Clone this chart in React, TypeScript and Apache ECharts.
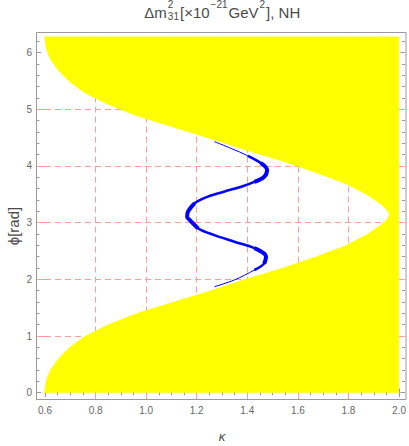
import React, { useEffect, useRef } from 'react';
import * as echarts from 'echarts';

const TWO_PI = 2 * Math.PI;

// axis ticks
const yTickValues = [0, 1, 2, 3, 4, 5, 6];
const gridXValues = [0.8, 1.0, 1.2, 1.4, 1.6, 1.8];
const gridYValues = [1, 2, 3, 4, 5];

// yellow region: left boundary kappa(phi); region extends right to kappa = 2.0
const yellowPhi = [
  0, 0.2, 0.4, 0.6, 0.8, 1.0, 1.2, 1.4, 1.6, 1.8, 2.0, 2.2, 2.4, 2.6, 2.8, 2.9, 2.95, 3.0, 3.05, 3.1, 3.1416,
  3.183, 3.233, 3.283, 3.333, 3.383, 3.483, 3.683, 3.883, 4.083, 4.283, 4.483, 4.683, 4.883, 5.083, 5.283, 5.483, 5.683,
  5.883, 6.083, 6.2832,
];
const yellowKappa = [
  0.597, 0.603, 0.62, 0.652, 0.697, 0.758, 0.848, 0.962, 1.106, 1.252, 1.39, 1.538, 1.67, 1.79, 1.875, 1.908, 1.924,
  1.938, 1.949, 1.957, 1.961, 1.957, 1.949, 1.938, 1.924, 1.908, 1.875, 1.79, 1.67, 1.538, 1.39, 1.252, 1.106, 0.962,
  0.848, 0.758, 0.697, 0.652, 0.62, 0.603, 0.597,
];
const yellowRightEdge = 2.0;

// blue curve
const bluePhi = [
  4.43, 4.31, 4.18, 4.05, 3.93, 3.81, 3.72, 3.635, 3.55, 3.46, 3.34, 3.19, 3.1, 3.05, 2.9, 2.78, 2.665, 2.55, 2.4, 2.28, 2.165,
  1.99, 1.87,
];
const blueKappa = [
  1.27, 1.336, 1.402, 1.454, 1.478, 1.467, 1.428, 1.376, 1.31, 1.244, 1.191, 1.165, 1.162, 1.172, 1.205, 1.27, 1.349, 1.428,
  1.474, 1.467, 1.428, 1.349, 1.27,
];

const FONT = '"Liberation Sans", Arial, sans-serif';
const TICK_GRAY = '#9a9a9a';
const LABEL_GRAY = '#666666';
const TEXT_GRAY = '#4a4a4a';
const GRID_PINK = '#ff9c9c';
const BLUE = '#0000ff';
const YELLOW = '#ffff00';

function measure(text: string, size: number): number {
  const c = document.createElement('canvas');
  const ctx = c.getContext('2d');
  if (!ctx) return text.length * size * 0.55;
  ctx.font = `${size}px ${FONT}`;
  return ctx.measureText(text).width;
}

export default function App() {
  const ref = useRef<HTMLDivElement>(null);

  useEffect(() => {
    if (!ref.current) return;
    const chart = echarts.init(ref.current, undefined, { renderer: 'svg' });

    const yellowData = yellowPhi.map((p, i) => [yellowKappa[i], p]);
    const blueData = bluePhi.map((p, i) => [blueKappa[i], p]);
    const blueMid = blueData.slice(2, 21);
    const blueThick1 = blueData.slice(3, 7);
    const blueThick2 = blueData.slice(10, 15);
    const blueThick3 = blueData.slice(17, 20);

    const baseX = { type: 'value', min: 0.6, max: 2.0, interval: 0.2, gridIndex: 0 };
    const baseY = { type: 'value', min: 0, max: TWO_PI, interval: 1, gridIndex: 0 };
    const frameTick = (len: number) => ({
      show: true,
      inside: true,
      length: len,
      lineStyle: { color: TICK_GRAY, width: 1 },
    });
    const minor = (n: number, len: number) => ({
      show: true,
      splitNumber: n,
      length: len,
      lineStyle: { color: TICK_GRAY, width: 1 },
    });
    const ext = (len: number, vals: number[]) => ({
      show: true,
      inside: false,
      length: len,
      customValues: vals,
      lineStyle: { color: GRID_PINK, width: 1 },
    });
    const pinkSplit = {
      show: true,
      showMinLine: false,
      showMaxLine: false,
      lineStyle: { color: GRID_PINK, width: 1, type: [6, 4] },
    };

    // title layout: main text, superscripts, stacked sup/sub
    const MAIN = 15;
    const SCRIPT = 10;
    const GAP = 1;
    const yMain = 12;
    const ySup = 4.8;
    const ySub = 16.2;
    type Piece = { kind: 'main' | 'sup' | 'stack'; t: string; t2?: string };
    const pieces: Piece[] = [
      { kind: 'main', t: 'Δm' },
      { kind: 'stack', t: '2', t2: '31' },
      { kind: 'main', t: '[×10' },
      { kind: 'sup', t: '−21' },
      { kind: 'main', t: 'GeV' },
      { kind: 'sup', t: '2' },
      { kind: 'main', t: '], NH' },
    ];
    const widths = pieces.map((p) =>
      p.kind === 'main'
        ? measure(p.t, MAIN)
        : p.kind === 'sup'
        ? measure(p.t, SCRIPT)
        : Math.max(measure(p.t, SCRIPT), measure(p.t2 || '', SCRIPT))
    );
    const total = widths.reduce((a, b) => a + b, 0) + GAP * (pieces.length - 1);
    let cx = 222.3 - total / 2;
    const titleEls: any[] = [];
    pieces.forEach((p, i) => {
      const mk = (t: string, x: number, y: number, s: number) => ({
        type: 'text',
        x,
        y,
        silent: true,
        style: { text: t, fontSize: s, fontFamily: FONT, fill: TEXT_GRAY, align: 'left', verticalAlign: 'middle' },
      });
      if (p.kind === 'main') titleEls.push(mk(p.t, cx, yMain, MAIN));
      else if (p.kind === 'sup') titleEls.push(mk(p.t, cx, ySup, SCRIPT));
      else {
        titleEls.push(mk(p.t, cx, ySup, SCRIPT));
        titleEls.push(mk(p.t2 || '', cx, ySub, SCRIPT));
      }
      cx += widths[i] + GAP;
    });

    chart.setOption({
      animation: false,
      grid: { left: 45, right: 9, top: 36.6, bottom: 53.3, containLabel: false },
      xAxis: [
        {
          ...baseX,
          position: 'bottom',
          offset: 6.8,
          axisLine: { show: false },
          axisTick: frameTick(4.3),
          minorTick: minor(4, 2.7),
          axisLabel: {
            show: true,
            color: LABEL_GRAY,
            fontSize: 10,
            fontFamily: FONT,
            margin: 6,
            formatter: (v: number) => v.toFixed(1),
          },
          splitLine: pinkSplit,
        },
        {
          ...baseX,
          position: 'top',
          offset: 4.1,
          axisLine: { show: false },
          axisTick: frameTick(4.3),
          minorTick: minor(4, 2.7),
          axisLabel: { show: false },
          splitLine: { show: false },
        },
        {
          ...baseX,
          position: 'bottom',
          offset: 0,
          axisLine: { show: false },
          axisTick: ext(6.8, gridXValues),
          axisLabel: { show: false },
          splitLine: { show: false },
        },
        {
          ...baseX,
          position: 'top',
          offset: 0,
          axisLine: { show: false },
          axisTick: ext(4.1, gridXValues),
          axisLabel: { show: false },
          splitLine: { show: false },
        },
      ],
      yAxis: [
        {
          ...baseY,
          position: 'left',
          offset: 8.5,
          axisLine: { show: false },
          axisTick: { ...frameTick(4.7), customValues: yTickValues },
          minorTick: minor(5, 3),
          axisLabel: {
            show: true,
            color: LABEL_GRAY,
            fontSize: 10,
            fontFamily: FONT,
            margin: 4.5,
            customValues: yTickValues,
            formatter: (v: number) => (Math.abs(v - Math.round(v)) < 1e-6 ? String(Math.round(v)) : ''),
          },
          splitLine: pinkSplit,
        },
        {
          ...baseY,
          position: 'right',
          offset: 6,
          axisLine: { show: false },
          axisTick: { ...frameTick(4.7), customValues: yTickValues },
          minorTick: minor(5, 3),
          axisLabel: { show: false },
          splitLine: { show: false },
        },
        {
          ...baseY,
          position: 'left',
          offset: 0,
          axisLine: { show: false },
          axisTick: ext(8.5, gridYValues),
          axisLabel: { show: false },
          splitLine: { show: false },
        },
        {
          ...baseY,
          position: 'right',
          offset: 0,
          axisLine: { show: false },
          axisTick: ext(6, gridYValues),
          axisLabel: { show: false },
          splitLine: { show: false },
        },
      ],
      series: [
        {
          type: 'custom',
          xAxisIndex: 0,
          yAxisIndex: 0,
          silent: true,
          z: 2,
          data: yellowData,
          renderItem: (params: any, api: any) => {
            if (params.dataIndex !== 0) return null;
            const pts = yellowData.map((d) => api.coord(d));
            pts.push(api.coord([yellowRightEdge, yellowPhi[yellowPhi.length - 1]]));
            pts.push(api.coord([yellowRightEdge, yellowPhi[0]]));
            return { type: 'polygon', shape: { points: pts }, style: { fill: YELLOW, stroke: null } };
          },
        },
        {
          type: 'line',
          xAxisIndex: 0,
          yAxisIndex: 0,
          data: blueData,
          showSymbol: false,
          smooth: 0.35,
          z: 3,
          silent: true,
          lineStyle: { color: BLUE, width: 1 },
        },
        {
          type: 'line',
          xAxisIndex: 0,
          yAxisIndex: 0,
          data: blueMid,
          showSymbol: false,
          smooth: 0.35,
          z: 3,
          silent: true,
          lineStyle: { color: BLUE, width: 2.6 },
        },
        ...[blueThick1, blueThick2, blueThick3].map((d) => ({
          type: 'line',
          xAxisIndex: 0,
          yAxisIndex: 0,
          data: d,
          showSymbol: false,
          smooth: 0.35,
          z: 3,
          silent: true,
          lineStyle: { color: BLUE, width: 4 },
        })),
      ],
      graphic: [
        {
          type: 'rect',
          z: 100,
          silent: true,
          shape: { x: 36.5, y: 32.5, width: 369.5, height: 367 },
          style: { fill: 'none', stroke: '#9a9a9a', lineWidth: 1 },
        },
        ...titleEls,
        {
          type: 'text',
          x: 222,
          y: 436,
          silent: true,
          style: {
            text: 'κ',
            fontSize: 13,
            fontStyle: 'italic',
            fontFamily: FONT,
            fill: TEXT_GRAY,
            align: 'center',
            verticalAlign: 'middle',
          },
        },
        {
          type: 'text',
          x: 13,
          y: 226,
          rotation: Math.PI / 2,
          silent: true,
          style: {
            text: 'ϕ[rad]',
            fontSize: 15,
            fontFamily: FONT,
            fill: TEXT_GRAY,
            align: 'center',
            verticalAlign: 'middle',
          },
        },
      ],
    });

    return () => chart.dispose();
  }, []);

  return (
    <div
      ref={ref}
      style={{ position: 'absolute', left: 0, top: 0, width: 409, height: 446, background: '#ffffff' }}
    />
  );
}
